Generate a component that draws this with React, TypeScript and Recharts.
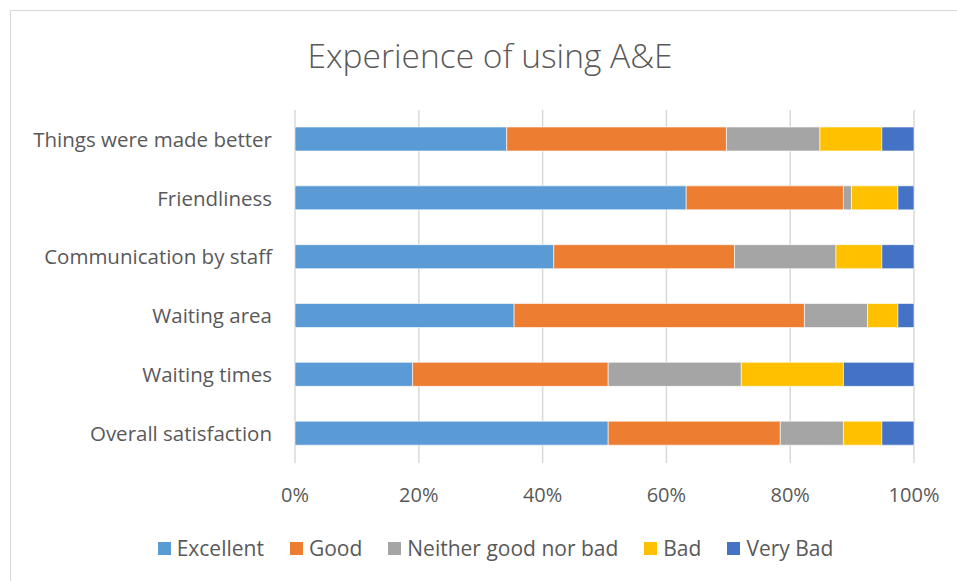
import { BarChart, Bar, XAxis, YAxis, CartesianGrid, Legend } from 'recharts';

const categories = [
  'Things were made better',
  'Friendliness',
  'Communication by staff',
  'Waiting area',
  'Waiting times',
  'Overall satisfaction',
];

const excellent = [34.2, 63.2, 41.8, 35.4, 19.0, 50.6];
const good = [35.5, 25.4, 29.2, 46.9, 31.6, 27.8];
const neither = [15.1, 1.3, 16.4, 10.2, 21.5, 10.2];
const bad = [10.0, 7.5, 7.4, 4.9, 16.5, 6.2];
const veryBad = [5.2, 2.6, 5.2, 2.6, 11.4, 5.2];

const xTicks = [0, 0.2, 0.4, 0.6, 0.8, 1];

const series = [
  { key: 'excellent', name: 'Excellent', color: '#5B9BD5' },
  { key: 'good', name: 'Good', color: '#ED7D31' },
  { key: 'neither', name: 'Neither good nor bad', color: '#A5A5A5' },
  { key: 'bad', name: 'Bad', color: '#FFC000' },
  { key: 'veryBad', name: 'Very Bad', color: '#4472C4' },
];

const data = categories.map((name, i) => ({
  name,
  excellent: excellent[i],
  good: good[i],
  neither: neither[i],
  bad: bad[i],
  veryBad: veryBad[i],
}));

const FONT = '"Open Sans", "Noto Sans", sans-serif';
const TEXT = '#595959';

const LegendContent = () => (
  <div style={{ display: 'flex', justifyContent: 'center', gap: 26, fontFamily: FONT, fontSize: 21, color: TEXT, lineHeight: '26px' }}>
    {series.map((s) => (
      <div key={s.key} style={{ display: 'flex', alignItems: 'center' }}>
        <span style={{ width: 13, height: 13, background: s.color, marginRight: 6, display: 'inline-block' }} />
        <span>{s.name}</span>
      </div>
    ))}
  </div>
);

export default function App() {
  return (
    <div style={{ position: 'absolute', left: 0, top: 0, width: 957, height: 581, background: '#fff', overflow: 'hidden' }}>
      <div
        style={{
          position: 'absolute',
          left: 10,
          top: 10,
          width: 1000,
          height: 600,
          borderTop: '1.5px solid #d9d9d9',
          borderLeft: '1.5px solid #d9d9d9',
        }}
      />
      <div
        style={{
          position: 'absolute',
          top: 32,
          left: 0,
          width: 980,
          textAlign: 'center',
          fontFamily: FONT,
          fontWeight: 300,
          fontSize: 33.5,
          color: TEXT,
        }}
      >
        Experience of using A&amp;E
      </div>
      <div style={{ position: 'absolute', left: 0, top: 0 }}>
        <BarChart
          width={957}
          height={581}
          data={data}
          layout="vertical"
          stackOffset="expand"
          margin={{ top: 110, right: 43, bottom: 62, left: 0 }}
        >
          <CartesianGrid horizontal={false} stroke="#d9d9d9" strokeWidth={1.5} />
          <XAxis
            type="number"
            domain={[0, 1]}
            ticks={xTicks}
            tickFormatter={(v: number) => `${Math.round(v * 100)}%`}
            axisLine={false}
            tickLine={false}
            tickMargin={19}
            interval={0}
            tick={{ fill: TEXT, fontSize: 20, fontFamily: FONT }}
          />
          <YAxis
            type="category"
            dataKey="name"
            width={295}
            axisLine={false}
            tickLine={false}
            tickMargin={17}
            interval={0}
            tick={{ fill: TEXT, fontSize: 20.5, fontFamily: FONT }}
          />
          <Legend
            content={<LegendContent />}
            wrapperStyle={{ top: 535, left: 17, width: 957 }}
          />
          {series.map((s) => (
            <Bar
              key={s.key}
              dataKey={s.key}
              name={s.name}
              stackId="a"
              fill={s.color}
              stroke="#ffffff"
              strokeWidth={0.6}
              barSize={24}
              isAnimationActive={false}
            />
          ))}
        </BarChart>
      </div>
    </div>
  );
}
